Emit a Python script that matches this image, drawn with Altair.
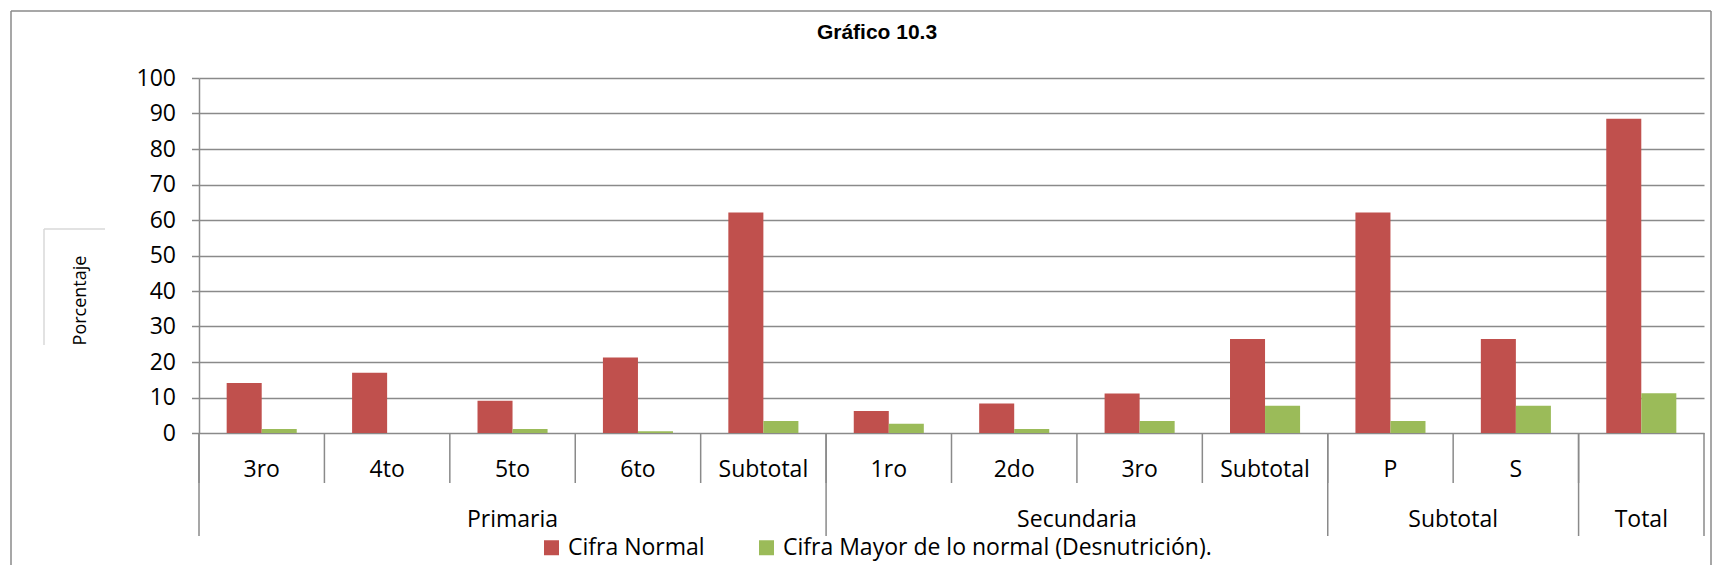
import altair as alt
import pandas as pd

# ---------------- data ----------------
categorias = ["3ro", "4to", "5to", "6to", "Subtotal", "1ro", "2do", "3ro", "Subtotal", "P", "S", ""]
grupos = ["Primaria"] * 5 + ["Secundaria"] * 4 + ["Subtotal"] * 2 + ["Total"]
series = ["Cifra Normal", "Cifra Mayor de lo normal (Desnutrición)."]
cifra_normal = [14.1, 17.0, 9.1, 21.3, 62.1, 6.2, 8.3, 11.1, 26.5, 62.1, 26.5, 88.5]
cifra_mayor = [1.1, 0.0, 1.1, 0.5, 3.4, 2.6, 1.1, 3.4, 7.7, 3.4, 7.7, 11.2]
colores = ["#C0504D", "#9BBB59"]
y_ticks = list(range(0, 101, 10))
titulo = "Gráfico 10.3"
titulo_y = "Porcentaje"

# ---------------- tables ----------------
n = len(categorias)
idx = list(range(n))
rows = []
for i in idx:
    rows.append({"idx": i, "serie": series[0], "valor": cifra_normal[i]})
    rows.append({"idx": i, "serie": series[1], "valor": cifra_mayor[i]})
df = pd.DataFrame(rows)

df_cat = pd.DataFrame({"idx": idx, "cat": categorias})
starts = [i for i in idx if i == 0 or grupos[i] != grupos[i - 1]]
df_starts = pd.DataFrame({"idx": starts})
df_end = pd.DataFrame({"idx": [n - 1]})

g_odd, g_even = [], []
for k, s in enumerate(starts):
    e = starts[k + 1] if k + 1 < len(starts) else n
    cnt = e - s
    if cnt % 2 == 1:
        g_odd.append({"idx": s + cnt // 2, "g": grupos[s]})
    else:
        g_even.append({"idx": s + cnt // 2, "g": grupos[s]})
df_g_odd = pd.DataFrame(g_odd)
df_g_even = pd.DataFrame(g_even)

W, H = 1505, 355
GRID = "#8a8a8a"
FONT = "Open Sans"

xscale = alt.Scale(domain=idx, paddingInner=0, paddingOuter=0)

bars = alt.Chart(df).mark_bar().encode(
    x=alt.X("idx:O", scale=xscale, axis=None),
    xOffset=alt.XOffset("serie:N", sort=series,
                        scale=alt.Scale(domain=series, paddingInner=0, paddingOuter=0.79)),
    y=alt.Y("valor:Q", scale=alt.Scale(domain=[0, 100], nice=False),
            axis=alt.Axis(values=y_ticks, grid=True, gridColor=GRID, gridWidth=1.5,
                          domainColor=GRID, domainWidth=1.5, tickColor=GRID, tickWidth=1.5,
                          tickSize=7.5, labelFont=FONT, labelFontSize=23, labelColor="#000",
                          labelPadding=16, title=titulo_y, titleFont=FONT,
                          titleFontSize=18, titleFontWeight="normal", titleColor="#000",
                          titleAngle=270, titleX=-119, titleY=222, titleAlign="center",
                          titleBaseline="middle")),
    color=alt.Color("serie:N", scale=alt.Scale(domain=series, range=colores),
                    legend=alt.Legend(title=None, orient="none", legendX=341, legendY=458,
                                      direction="horizontal", symbolType="square",
                                      symbolSize=225, symbolStrokeWidth=0, labelFont=FONT,
                                      labelFontSize=23, labelColor="#000", labelOffset=5,
                                      columnPadding=50, labelLimit=800, padding=0)),
)

ticks = alt.Chart(df_cat).mark_rule(color=GRID, strokeWidth=1.5).encode(
    x=alt.X("idx:O", scale=xscale, axis=None, bandPosition=0),
    y=alt.value(H), y2=alt.value(405),
)
long_ticks = alt.Chart(df_starts).mark_rule(color=GRID, strokeWidth=1.5).encode(
    x=alt.X("idx:O", scale=xscale, axis=None, bandPosition=0),
    y=alt.value(H), y2=alt.value(458),
)
end_tick = alt.Chart(df_end).mark_rule(color=GRID, strokeWidth=1.5).encode(
    x=alt.X("idx:O", scale=xscale, axis=None, bandPosition=1),
    y=alt.value(H), y2=alt.value(458),
)

cat_labels = alt.Chart(df_cat).mark_text(font=FONT, fontSize=23, color="#000",
                                         align="center", baseline="alphabetic").encode(
    x=alt.X("idx:O", scale=xscale, axis=None, bandPosition=0.5),
    y=alt.value(398.5), text="cat:N",
)
g_labels_odd = alt.Chart(df_g_odd).mark_text(font=FONT, fontSize=23, color="#000",
                                             align="center", baseline="alphabetic").encode(
    x=alt.X("idx:O", scale=xscale, axis=None, bandPosition=0.5),
    y=alt.value(448.5), text="g:N",
)
g_labels_even = alt.Chart(df_g_even).mark_text(font=FONT, fontSize=23, color="#000",
                                               align="center", baseline="alphabetic").encode(
    x=alt.X("idx:O", scale=xscale, axis=None, bandPosition=0),
    y=alt.value(448.5), text="g:N",
)

one = pd.DataFrame({"k": [0]})
border_top = alt.Chart(one).mark_rule(color=GRID, strokeWidth=1.5).encode(
    x=alt.value(-188), x2=alt.value(1512), y=alt.value(-67))
border_left = alt.Chart(one).mark_rule(color=GRID, strokeWidth=1.5).encode(
    x=alt.value(-188), y=alt.value(-67), y2=alt.value(600))
border_right = alt.Chart(one).mark_rule(color=GRID, strokeWidth=1.5).encode(
    x=alt.value(1512), y=alt.value(-67), y2=alt.value(600))
box_top = alt.Chart(one).mark_rule(color="#d9d9d9", strokeWidth=1.5).encode(
    x=alt.value(-155), x2=alt.value(-94), y=alt.value(151))
box_left = alt.Chart(one).mark_rule(color="#d9d9d9", strokeWidth=1.5).encode(
    x=alt.value(-155), y=alt.value(151), y2=alt.value(267))

title = alt.Chart(pd.DataFrame({"t": [titulo]})).mark_text(
    font="Liberation Sans", fontSize=21, fontWeight="bold", color="#000",
    align="center", baseline="alphabetic").encode(
    x=alt.value(678), y=alt.value(-39), text="t:N")

chart = alt.layer(
    bars, ticks, long_ticks, end_tick, cat_labels, g_labels_odd, g_labels_even,
    border_top, border_left, border_right, box_top, box_left, title,
).properties(
    width=W, height=H,
    padding={"left": 191, "top": 70, "right": 12, "bottom": 132},
    autosize=alt.AutoSizeParams(type="none"),
    background="white",
).configure_view(stroke=None)

chart.save("out.html", embed_options={"renderer": "svg", "actions": False})
